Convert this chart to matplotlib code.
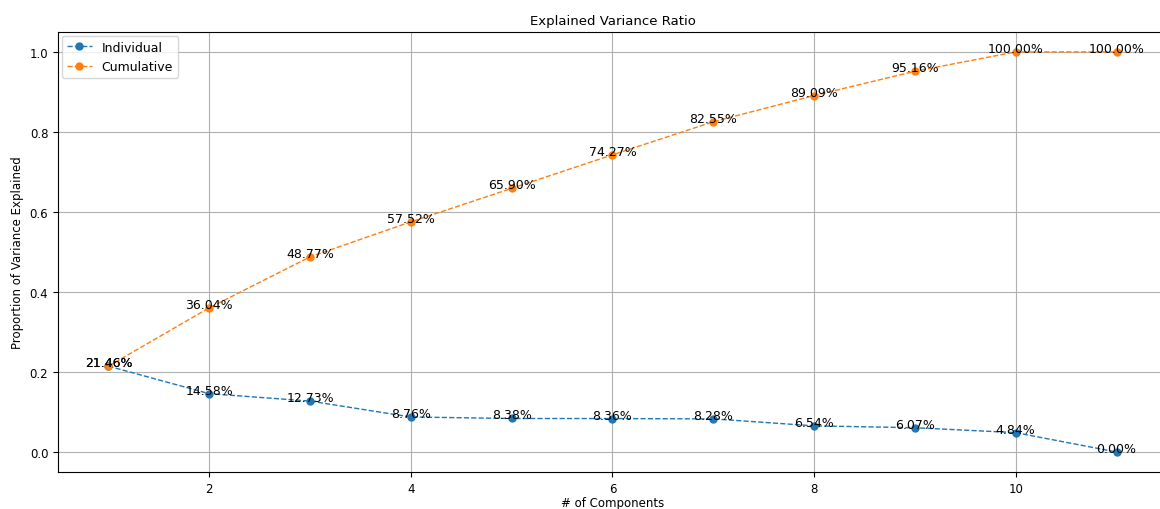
import matplotlib
matplotlib.use("Agg")
import matplotlib.pyplot as plt

# explained variance per component (in %)
components = [1, 2, 3, 4, 5, 6, 7, 8, 9, 10, 11]
individual = [21.46, 14.58, 12.73, 8.76, 8.38, 8.36, 8.28, 6.54, 6.07, 4.84, 0.00]
cumulative = [21.46, 36.04, 48.77, 57.52, 65.90, 74.27, 82.55, 89.09, 95.16, 100.00, 100.00]

ind_ratio = [v / 100 for v in individual]
cum_ratio = [v / 100 for v in cumulative]

fig = plt.figure(figsize=(11.6, 5.1), dpi=100)
# axes runs slightly past the right border, like the cropped original
ax = fig.add_axes([0.05, 0.0725, 0.956, 0.863])

ax.plot(components, ind_ratio, linestyle='--', marker='o', color='tab:blue',
        linewidth=1, markersize=5, label='Individual')
ax.plot(components, cum_ratio, linestyle='--', marker='o', color='tab:orange',
        linewidth=1, markersize=5, label='Cumulative')

# percentage labels on every point
for x, y, v in zip(components, ind_ratio, individual):
    ax.text(x, y, f'{v:.2f}%', ha='center', va='baseline', fontsize=9)
for x, y, v in zip(components, cum_ratio, cumulative):
    ax.text(x, y, f'{v:.2f}%', ha='center', va='baseline', fontsize=9)

ax.set_title('Explained Variance Ratio', fontsize=9.5, pad=6)
ax.set_xlabel('# of Components', fontsize=8.5, labelpad=1)
ax.set_ylabel('Proportion of Variance Explained', fontsize=8.5)
ax.tick_params(labelsize=8.5)
ax.set_xticks([2, 4, 6, 8, 10])
ax.grid(True)
ax.legend(loc='upper left', fontsize=9, borderaxespad=0.3)

plt.savefig('out.png', dpi=100)
plt.close()
